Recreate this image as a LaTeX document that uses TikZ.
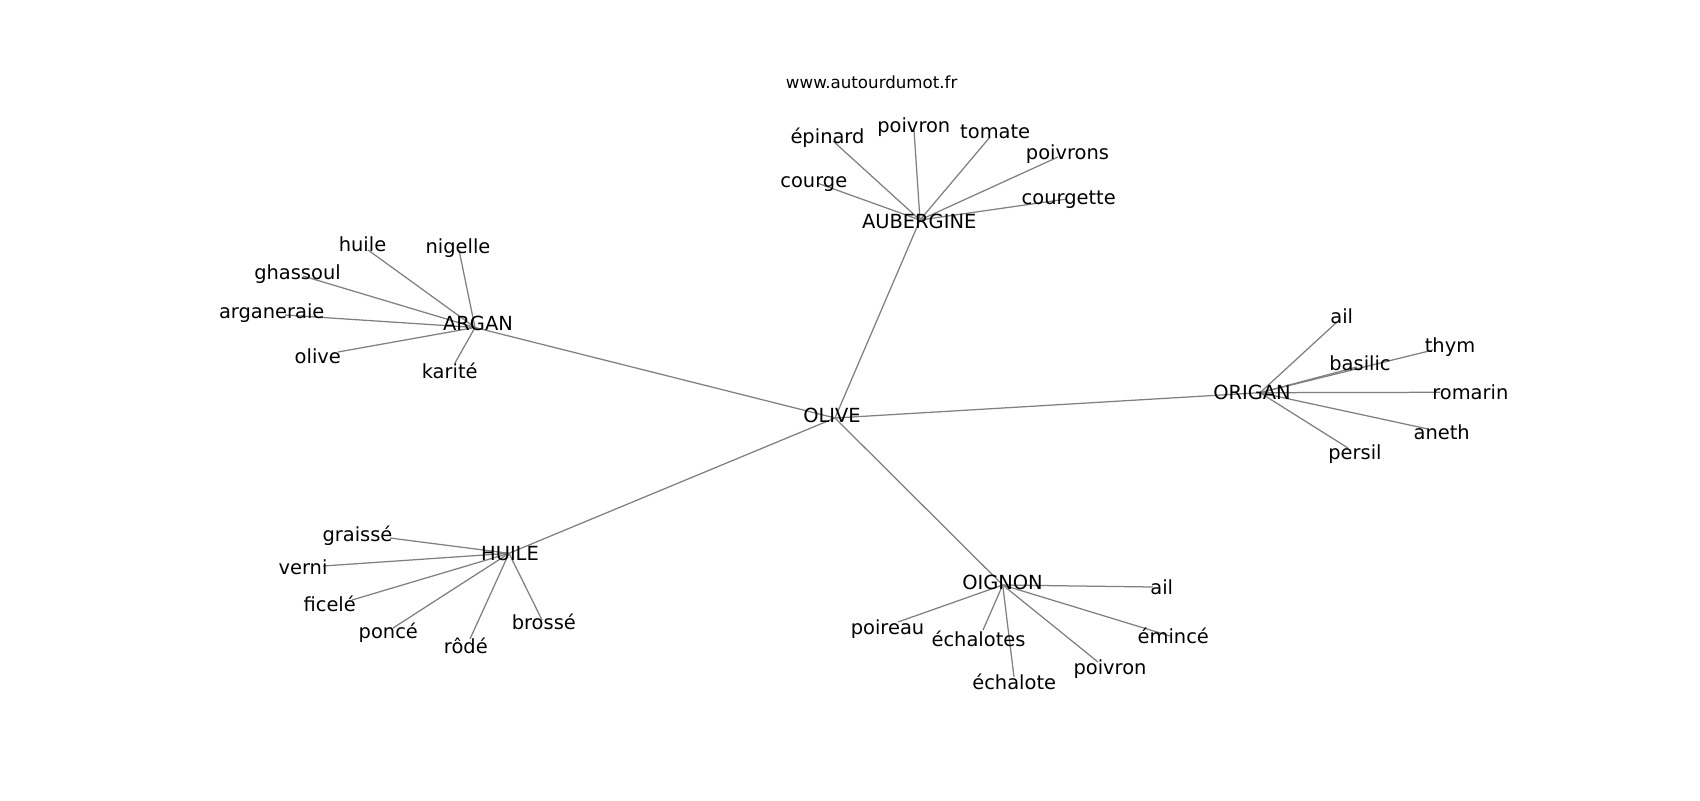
\documentclass[tikz,border=0pt]{standalone}
\usepackage{fontspec}
\setmainfont{DejaVu Sans}
\tikzset{
  lbl/.style={font=\fontsize{14}{16}\selectfont, inner sep=0pt, anchor=base, text=black, yshift=-1.1pt},
  wm/.style={font=\fontsize{12}{14}\selectfont, inner sep=0pt, anchor=base, text=black, yshift=-0.7pt},
  link/.style={draw=gray, line width=0.9pt}
}
\begin{document}
\begin{tikzpicture}[x=0.72pt, y=-0.72pt]
\useasboundingbox[fill=white] (0,0) rectangle (1700,800);
% hub points
\coordinate (OLIVE) at (835,418);
\coordinate (AUBERGINE) at (920,220);
\coordinate (ARGAN) at (475,327.5);
\coordinate (ORIGAN) at (1260,392.7);
\coordinate (HUILE) at (509,553.3);
\coordinate (OIGNON) at (1002.7,585);
% leaf points
\coordinate (epinard) at (833,141);
\coordinate (poivronA) at (914,130);
\coordinate (tomate) at (990,137);
\coordinate (poivrons) at (1058,157);
\coordinate (courgette) at (1067,199);
\coordinate (courge) at (817,183);
\coordinate (huile) at (368,250);
\coordinate (nigelle) at (459,250);
\coordinate (ghassoul) at (303,276);
\coordinate (arganeraie) at (285,315);
\coordinate (olive) at (338,352);
\coordinate (karite) at (455,363);
\coordinate (ailA) at (1337,322);
\coordinate (thym) at (1433,350);
\coordinate (basilic) at (1357,367);
\coordinate (romarin) at (1440,392.3);
\coordinate (aneth) at (1428,429);
\coordinate (persil) at (1348,448);
\coordinate (graisse) at (390,538);
\coordinate (verni) at (323,566);
\coordinate (ficele) at (352,600);
\coordinate (ponce) at (393,628);
\coordinate (rode) at (470,639);
\coordinate (brosse) at (542,620);
\coordinate (ailB) at (1153,587);
\coordinate (emince) at (1170,636);
\coordinate (poireau) at (898,622);
\coordinate (echalotes) at (983,630);
\coordinate (echalote) at (1014,677);
\coordinate (poivronB) at (1098,662);
% edges
\foreach \h in {AUBERGINE,ARGAN,ORIGAN,HUILE,OIGNON} \draw[link] (OLIVE) -- (\h);
\foreach \l in {epinard,poivronA,tomate,poivrons,courgette,courge} \draw[link] (AUBERGINE) -- (\l);
\foreach \l in {huile,nigelle,ghassoul,arganeraie,olive,karite} \draw[link] (ARGAN) -- (\l);
\foreach \l in {ailA,thym,basilic,romarin,aneth,persil} \draw[link] (ORIGAN) -- (\l);
\foreach \l in {graisse,verni,ficele,ponce,rode,brosse} \draw[link] (HUILE) -- (\l);
\foreach \l in {ailB,emince,poireau,echalotes,echalote,poivronB} \draw[link] (OIGNON) -- (\l);
% labels
\node[wm] (wmark) at (871.7,88) {www.autourdumot.fr};
\node[lbl] (tOLIVE) at (832,420.7) {OLIVE};
\node[lbl] (tAUBERGINE) at (919.2,226.7) {AUBERGINE};
\node[lbl] (tARGAN) at (478,329.3) {ARGAN};
\node[lbl] (tORIGAN) at (1252,398.3) {ORIGAN};
\node[lbl] (tHUILE) at (510,559.3) {HUILE};
\node[lbl] (tOIGNON) at (1002.5,588.3) {OIGNON};
\node[lbl] (tepinard) at (827.5,141.7) {épinard};
\node[lbl] (tpoivronA) at (913.8,130.7) {poivron};
\node[lbl] (ttomate) at (995.2,136.7) {tomate};
\node[lbl] (tpoivrons) at (1067.5,158.3) {poivrons};
\node[lbl] (tcourgette) at (1068.7,202.7) {courgette};
\node[lbl] (tcourge) at (813.8,186) {courge};
\node[lbl] (thuile) at (362.5,250) {huile};
\node[lbl] (tnigelle) at (458,251.7) {nigelle};
\node[lbl] (tghassoul) at (297.5,278.3) {ghassoul};
\node[lbl] (targaneraie) at (271.7,317.3) {arganeraie};
\node[lbl] (tolive) at (317.8,361.7) {olive};
\node[lbl] (tkarite) at (449.7,376.7) {karité};
\node[lbl] (tailA) at (1341.7,321.7) {ail};
\node[lbl] (tthym) at (1450,351) {thym};
\node[lbl] (tbasilic) at (1360,369.3) {basilic};
\node[lbl] (tromarin) at (1470.3,398.3) {romarin};
\node[lbl] (taneth) at (1441.7,438.3) {aneth};
\node[lbl] (tpersil) at (1355,458.3) {persil};
\node[lbl] (tgraisse) at (357.5,540) {graissé};
\node[lbl] (tverni) at (303,573.3) {verni};
\node[lbl] (tficele) at (329.7,610) {ficelé};
\node[lbl] (tponce) at (388.3,636.7) {poncé};
\node[lbl] (trode) at (465.8,651.7) {rôdé};
\node[lbl] (tbrosse) at (543.8,628.3) {brossé};
\node[lbl] (tailB) at (1161.7,593.3) {ail};
\node[lbl] (temince) at (1173.3,641.7) {émincé};
\node[lbl] (tpoireau) at (887.5,633.3) {poireau};
\node[lbl] (techalotes) at (978.5,645) {échalotes};
\node[lbl] (techalote) at (1014.2,688.3) {échalote};
\node[lbl] (tpoivronB) at (1110,673.3) {poivron};
\end{tikzpicture}
\end{document}
